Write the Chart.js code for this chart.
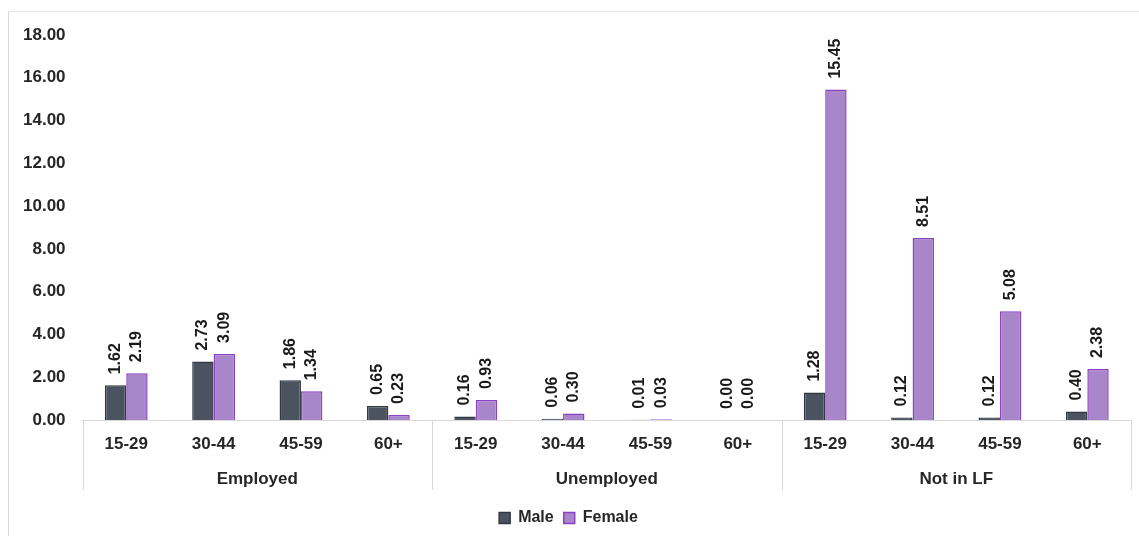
<!DOCTYPE html>
<html>
<head>
<meta charset="utf-8">
<script src="https://cdn.jsdelivr.net/npm/chart.js@4.4.1/dist/chart.umd.min.js"></script>
<style>
  html, body { margin: 0; padding: 0; background: #fff; }
  #frame { position: absolute; left: 8px; top: 11px; width: 1140px; height: 540px; border-left: 1px solid #d9d9d9; border-top: 1px solid #e6e6e6; }
  #wrap { position: absolute; left: 0; top: 0; width: 1139px; height: 536px; }
</style>
</head>
<body>
<div id="frame"></div>
<div id="wrap"><canvas id="chart"></canvas></div>
<script>
const groups = ['Employed', 'Unemployed', 'Not in LF'];
const ages = ['15-29', '30-44', '45-59', '60+'];
const male = [1.62, 2.73, 1.86, 0.65, 0.16, 0.06, 0.01, 0.00, 1.28, 0.12, 0.12, 0.40];
const female = [2.19, 3.09, 1.34, 0.23, 0.93, 0.30, 0.03, 0.00, 15.45, 8.51, 5.08, 2.38];
const yTicks = [0, 2, 4, 6, 8, 10, 12, 14, 16, 18];

const labels = [];
groups.forEach(() => ages.forEach(a => labels.push(a)));

const font = { family: 'Liberation Sans, Arial, sans-serif', size: 17, weight: 'bold' };

// value labels, rotated, above each bar
const barLabels = {
  id: 'barLabels',
  afterDatasetsDraw(chart) {
    const ctx = chart.ctx;
    ctx.save();
    ctx.font = 'bold 16px Liberation Sans, Arial, sans-serif';
    ctx.fillStyle = '#1a1a1a';
    ctx.textAlign = 'left';
    ctx.textBaseline = 'middle';
    chart.data.datasets.forEach((ds, di) => {
      chart.getDatasetMeta(di).data.forEach((bar, i) => {
        ctx.save();
        ctx.translate(bar.x, bar.y - 11);
        ctx.rotate(-Math.PI / 2);
        ctx.fillText(ds.data[i].toFixed(2), 0, 0);
        ctx.restore();
      });
    });
    ctx.restore();
  }
};

// vertical separators between the groups
const groupLines = {
  id: 'groupLines',
  afterDraw(chart) {
    const x = chart.scales.x;
    const ctx = chart.ctx;
    const half = (x.getPixelForValue(1) - x.getPixelForValue(0)) / 2;
    const top = chart.chartArea.bottom;
    ctx.save();
    ctx.strokeStyle = '#d9d9d9';
    ctx.lineWidth = 1;
    for (let g = 0; g <= groups.length; g++) {
      const px = Math.round(x.getPixelForValue(g * ages.length) - half) + 0.5;
      ctx.beginPath();
      ctx.moveTo(px, top);
      ctx.lineTo(px, top + 70);
      ctx.stroke();
    }
    ctx.restore();
  }
};

new Chart(document.getElementById('chart'), {
  type: 'bar',
  data: {
    labels: labels,
    datasets: [
      { label: 'Male', data: male, backgroundColor: '#4b5361', borderColor: '#323842', borderWidth: 1.5 },
      { label: 'Female', data: female, backgroundColor: '#a985c9', borderColor: '#8a42c2', borderWidth: 1.5 }
    ]
  },
  options: {
    responsive: true,
    maintainAspectRatio: false,
    animation: false,
    categoryPercentage: 0.49,
    barPercentage: 1,
    layout: { padding: { left: 6, right: 8, top: 35 } },
    plugins: {
      legend: {
        position: 'bottom',
        labels: { font: { ...font, size: 16 }, color: '#262626', boxWidth: 11, boxHeight: 11, padding: 10 }
      },
      tooltip: { enabled: false }
    },
    scales: {
      y: {
        min: 0, max: 18,
        afterBuildTicks: s => { s.ticks = yTicks.map(v => ({ value: v })); },
        grid: { display: false, drawTicks: false },
        border: { display: false },
        ticks: { font: font, color: '#262626', padding: 17, callback: v => v.toFixed(2) }
      },
      x: {
        grid: { display: false, drawTicks: false },
        border: { display: true, color: '#d9d9d9' },
        ticks: { font: font, color: '#262626', padding: 14 },
        afterFit: s => { s.height = 34; }
      },
      x2: {
        type: 'category',
        position: 'bottom',
        labels: groups,
        grid: { display: false, drawTicks: false },
        border: { display: false },
        ticks: { font: font, color: '#262626', padding: 15 },
        afterFit: s => { s.height = 46; }
      }
    }
  },
  plugins: [barLabels, groupLines]
});
</script>
</body>
</html>
